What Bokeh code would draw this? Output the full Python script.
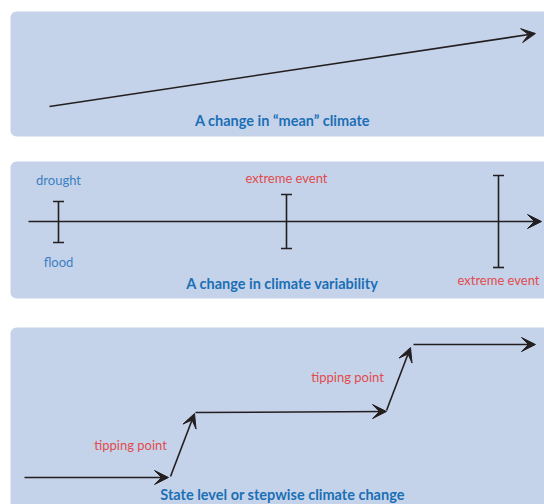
from bokeh.plotting import figure
from bokeh.models import Range1d, BoxAnnotation, Arrow, VeeHead, ColumnDataSource
from bokeh.core.properties import value
from bokeh.embed import file_html
from bokeh.resources import INLINE

# ---- data (diagram coordinates, image-pixel-like units, y grows downward) ----
panel_titles = ["A change in \u201cmean\u201d climate",
                "A change in climate variability",
                "State level or stepwise climate change"]
title_x = [282, 282, 282]
title_y = [120, 283, 494]

# panel 1: mean trend
mean_x = [49, 535]
mean_y = [106, 33]

# panel 2: variability axis and events
axis_x = [28, 541]
axis_y = [221, 221]
event_x = [58, 286, 498]
event_high = [201, 194, 175]
event_low = [242, 248, 267]
event_labels = ["drought", "flood", "extreme event", "extreme event"]
event_label_x = [58, 58, 286, 498]
event_label_y = [179, 261, 177, 279]
event_label_colors = ["#3b80c2", "#3b80c2", "#e04c4c", "#e04c4c"]

# panel 3: stepwise change segments
step_x0 = [24, 170, 195, 386, 413]
step_y0 = [477, 476, 412, 410, 344]
step_x1 = [168, 194, 386, 410, 535]
step_y1 = [477, 413, 411, 347, 344]
tip_labels = ["tipping point", "tipping point"]
tip_x = [130, 347]
tip_y = [444, 376]

# panels
panel_top = [11, 161, 327]
panel_bottom = [136, 298, 560]

INK = "#231f20"
PANEL = "#c5d3ea"
TITLE = "#1b6fb5"
FONT = "Lato"

p = figure(width=544, height=504, output_backend="svg", toolbar_location=None,
           x_range=Range1d(0, 544), y_range=Range1d(504, 0),
           min_border=0, outline_line_color=None,
           background_fill_color="white", border_fill_color="white")
p.axis.visible = False
p.grid.visible = False

for t, b in zip(panel_top, panel_bottom):
    p.add_layout(BoxAnnotation(left=10, right=600, top=t, bottom=b,
                               fill_color=PANEL, fill_alpha=1.0,
                               line_color=None, border_radius=6, level="underlay"))

def arrows(x0, y0, x1, y1):
    src = ColumnDataSource(dict(x0=x0, y0=y0, x1=x1, y1=y1))
    p.add_layout(Arrow(source=src, x_start="x0", y_start="y0", x_end="x1", y_end="y1",
                       line_color=INK, line_width=1.6,
                       end=VeeHead(size=14, fill_color=INK, line_color=INK, line_width=1)))

# panel 1
arrows([mean_x[0]], [mean_y[0]], [mean_x[1]], [mean_y[1]])

# panel 2
arrows([axis_x[0]], [axis_y[0]], [axis_x[1]], [axis_y[1]])
p.segment(x0=event_x, y0=event_high, x1=event_x, y1=event_low, line_color=INK, line_width=1.6)
p.scatter(x=event_x + event_x, y=event_high + event_low, marker="dash", size=11,
          line_color=INK, line_width=1.6)
p.text(x=event_label_x, y=event_label_y, text=event_labels, text_color=event_label_colors,
       text_font=value(FONT), text_font_size="13px", text_align="center",
       text_baseline="middle")

# panel 3
arrows(step_x0, step_y0, step_x1, step_y1)
p.text(x=tip_x, y=tip_y, text=tip_labels, text_color="#e04c4c",
       text_font=value(FONT), text_font_size="13px", text_align="center",
       text_baseline="middle")

# titles
p.text(x=title_x, y=title_y, text=panel_titles, text_color=TITLE,
       text_font=value(FONT), text_font_style="bold", text_font_size="14.5px",
       text_align="center", text_baseline="middle")

open("out.html", "w").write(file_html(p, INLINE))
